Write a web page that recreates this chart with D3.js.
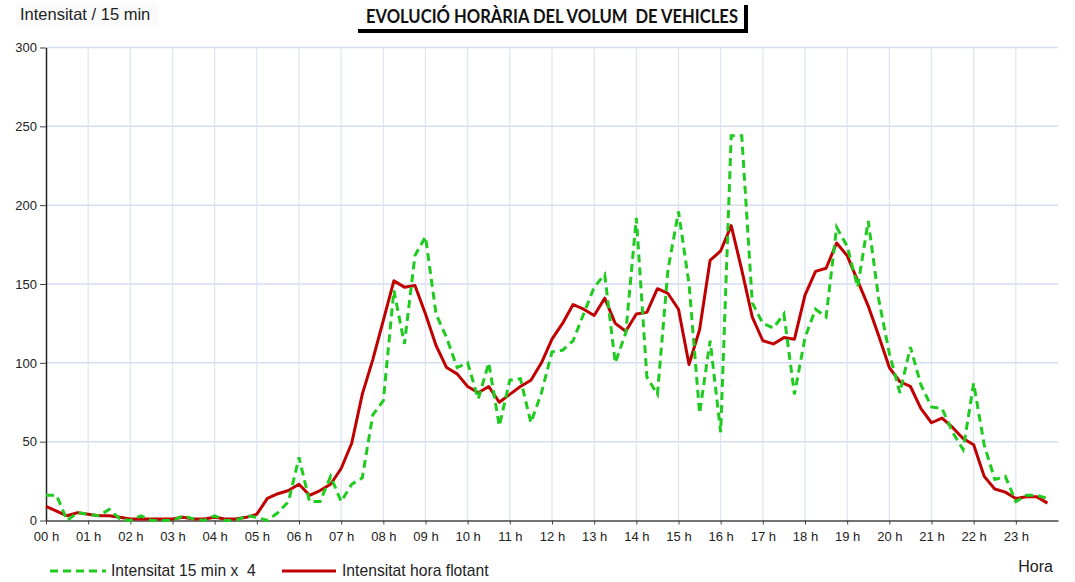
<!DOCTYPE html>
<html><head><meta charset="utf-8">
<script src="https://cdn.jsdelivr.net/npm/d3@7"></script>
<style>body{margin:0;background:#fff}svg{display:block}</style>
</head><body>
<script>
const hourLabels = ["00 h","01 h","02 h","03 h","04 h","05 h","06 h","07 h","08 h","09 h","10 h","11 h","12 h","13 h","14 h","15 h","16 h","17 h","18 h","19 h","20 h","21 h","22 h","23 h"];
const yTicks = [0,50,100,150,200,250,300];
// 15-minute intensity x 4 (96 quarter-hours)
const intensitat15 = [16,16,0,5,4,3,7,1,0,3,0,0,0,3,1,0,3,0,0,3,2,0,5,12,
  40,12,12,28,12,23,27,67,76,146,112,168,180,131,116,97,100,77,100,60,89,90,62,81,
  107,108,114,131,148,156,100,119,192,91,80,159,196,150,68,114,56,244,244,138,125,122,131,80,
  116,134,129,186,174,148,190,140,106,81,110,86,72,71,56,45,87,48,26,28,12,16,16,14];
// floating hour intensity
const horaFlotant = [9,6,3,5,4,3,3,2,1,1,1,1,1,2,1,1,2,1,1,2,4,14,17,19,
  23,16,19,23,33,49,80,102,127,152,148,149,131,111,97,93,85,81,85,75,80,85,89,100,
  115,125,137,134,130,141,125,120,131,132,147,144,134,99,121,165,171,187,159,129,114,112,116,115,
  143,158,160,176,168,152,136,117,97,88,85,71,62,65,59,52,48,28,20,18,14,15,15,11];

const W = 1075, H = 582;
const svg = d3.select("body").append("svg").attr("width", W).attr("height", H)
  .style("font-family", "'Liberation Sans', Arial, sans-serif");

const x = d3.scaleLinear().domain([0, 24]).range([46, 1058]);
const y = d3.scaleLinear().domain([0, 300]).range([520.5, 47.5]);

// grid
const grid = svg.append("g");
grid.selectAll("line.h").data(yTicks.slice(1)).join("line")
  .attr("x1", x(0)).attr("x2", x(24)).attr("y1", d => y(d)).attr("y2", d => y(d))
  .attr("stroke", "#d5ddf0").attr("stroke-width", 1.5);
grid.selectAll("line.v").data(d3.range(1, 24)).join("line")
  .attr("x1", d => x(d)).attr("x2", d => x(d)).attr("y1", y(0)).attr("y2", y(300))
  .attr("stroke", "#dde3f2").attr("stroke-width", 1.2);

// axes
const xAxis = d3.axisBottom(x).tickValues(d3.range(0, 24)).tickFormat(d => hourLabels[d]).tickSize(4).tickSizeOuter(0);
const gx = svg.append("g").attr("transform", `translate(0,${y(0)})`).call(xAxis);
gx.select(".domain").attr("stroke", "#444").attr("stroke-width", 1.5);
gx.selectAll(".tick line").attr("stroke", "#444");
gx.selectAll(".tick text").attr("font-size", 13).attr("fill", "#222").attr("dy", "1.0em")
  .attr("font-family", "'Liberation Sans', Arial, sans-serif");

const yAxis = d3.axisLeft(y).tickValues(yTicks).tickSize(6).tickSizeOuter(0);
const gy = svg.append("g").attr("transform", `translate(${x(0)},0)`).call(yAxis);
gy.select(".domain").attr("stroke", "#222").attr("stroke-width", 1.5);
gy.selectAll(".tick line").attr("stroke", "#444");
gy.selectAll(".tick text").attr("font-size", 13).attr("fill", "#222").attr("x", -9)
  .attr("font-family", "'Liberation Sans', Arial, sans-serif");

// lines
const line = d3.line().x((d, i) => x(i / 4)).y(d => y(d));
svg.append("path").datum(horaFlotant).attr("d", line)
  .attr("fill", "none").attr("stroke", "#c00000").attr("stroke-width", 3).attr("stroke-linejoin", "round");
svg.append("path").datum(intensitat15).attr("d", line)
  .attr("fill", "none").attr("stroke", "#1ecb1e").attr("stroke-width", 3).attr("stroke-dasharray", "8,5");

// y title
svg.append("rect").attr("x", 16).attr("y", 3).attr("width", 142).attr("height", 24).attr("fill", "#fafafa");
svg.append("text").attr("x", 20).attr("y", 20).attr("font-size", 16.5).attr("fill", "#222").text("Intensitat / 15 min");

// chart title box with shadow
svg.append("rect").attr("x", 358).attr("y", 29).attr("width", 390).attr("height", 4).attr("fill", "#000");
svg.append("rect").attr("x", 744).attr("y", 5).attr("width", 4).attr("height", 28).attr("fill", "#000");
svg.append("text").attr("x", 552).attr("y", 23).attr("text-anchor", "middle")
  .attr("font-family", "Lato, 'Open Sans', sans-serif").attr("font-weight", "bold").attr("font-size", 18.5)
  .attr("fill", "#111").attr("textLength", 372).attr("lengthAdjust", "spacingAndGlyphs")
  .text("EVOLUCIÓ HORÀRIA DEL VOLUM  DE VEHICLES").style("white-space", "pre");

// x title
svg.append("text").attr("x", 1053).attr("y", 572).attr("text-anchor", "end").attr("font-size", 16).attr("fill", "#222").text("Hora");

// legend
const leg = svg.append("g");
leg.append("line").attr("x1", 50).attr("x2", 106).attr("y1", 571).attr("y2", 571)
  .attr("stroke", "#1ecb1e").attr("stroke-width", 3).attr("stroke-dasharray", "8,5");
leg.append("text").attr("x", 111).attr("y", 576).attr("font-size", 15.7).attr("fill", "#222")
  .text("Intensitat 15 min x  4").style("white-space", "pre");
leg.append("line").attr("x1", 282).attr("x2", 336).attr("y1", 571).attr("y2", 571)
  .attr("stroke", "#c00000").attr("stroke-width", 3);
leg.append("text").attr("x", 342).attr("y", 576).attr("font-size", 15.7).attr("fill", "#222").text("Intensitat hora flotant");
</script>
</body></html>
